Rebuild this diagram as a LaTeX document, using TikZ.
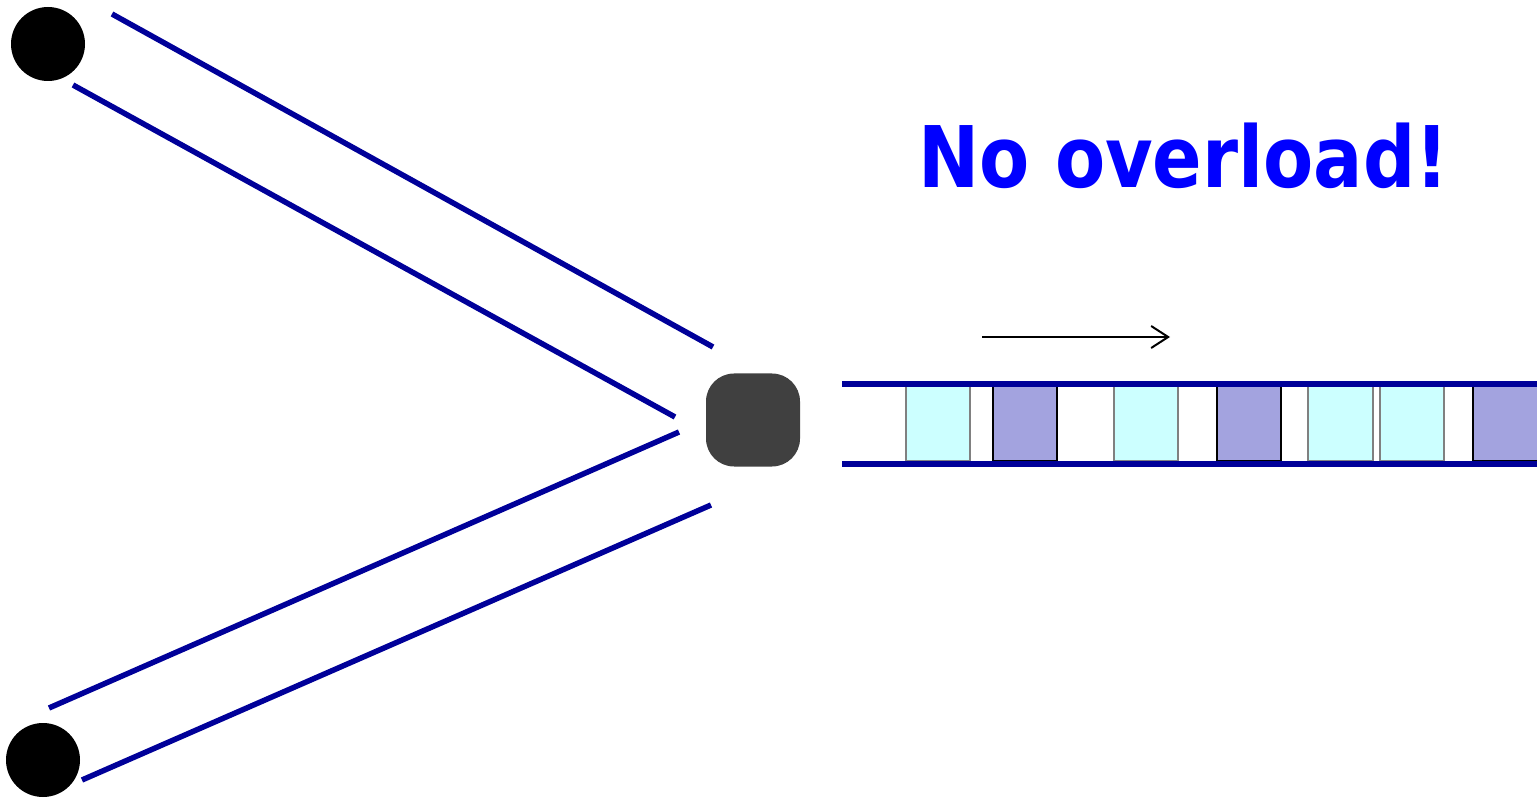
\documentclass[tikz,border=0pt]{standalone}
\usepackage{fontspec}
\usetikzlibrary{arrows.meta}
\newfontfamily\labelfont{DejaVu Sans}
\definecolor{linkblue}{RGB}{0,0,153}
\definecolor{routergray}{RGB}{64,64,64}
\definecolor{pktcyan}{RGB}{204,255,255}
\definecolor{pktpurple}{RGB}{163,163,223}
\definecolor{textblue}{RGB}{0,0,255}
\tikzset{
  host/.style={circle,fill=black,inner sep=0pt,minimum size=74pt},
  link/.style={line width=5.5pt,color=linkblue},
  pkta/.style={fill=pktcyan,draw=gray,line width=1.5pt},
  pktb/.style={fill=pktpurple,draw=black,line width=1.5pt}
}
\begin{document}
\begin{tikzpicture}[line join=round,>=stealth,x=1pt,y=-1pt]
\useasboundingbox (0,0) rectangle (1537,799);
\node[host] (src1) at (48,44) {};
\node[host] (src2) at (43,760) {};
\node[fill=routergray,rounded corners=28pt,minimum width=94pt,minimum height=93pt,inner sep=0pt] (router) at (753,420) {};
% input links
\coordinate (a1) at (112,14);  \coordinate (b1) at (713,347);
\coordinate (a2) at (73,85);   \coordinate (b2) at (675,417);
\coordinate (a3) at (49,708);  \coordinate (b3) at (679,432);
\coordinate (a4) at (82,780);  \coordinate (b4) at (711,505);
\foreach \i in {1,...,4}
  \draw[link] (a\i)--(b\i);
% output queue
\foreach \xa/\xb/\st in {906/970/pkta,993/1057/pktb,1114/1178/pkta,1217/1281/pktb,1308/1373/pkta,1380/1444/pkta,1473/1540/pktb}
  \draw[\st] (\xa,386) rectangle (\xb,461);
\coordinate (q1) at (842,384); \coordinate (q2) at (1537,384);
\coordinate (q3) at (842,464); \coordinate (q4) at (1537,464);
\draw[link] (q1)--(q2);
\draw[link] (q3)--(q4);
\coordinate (d1) at (982,337); \coordinate (d2) at (1170,337);
\draw[line width=2pt,-{Straight Barb[length=17pt,width=22pt]}] (d1)--(d2);
\node[anchor=base west,inner sep=0pt,text=textblue,font=\labelfont\bfseries\fontsize{85}{100}\selectfont,xscale=0.86] (msg) at (918,188) {No overload!};
\end{tikzpicture}
\end{document}
